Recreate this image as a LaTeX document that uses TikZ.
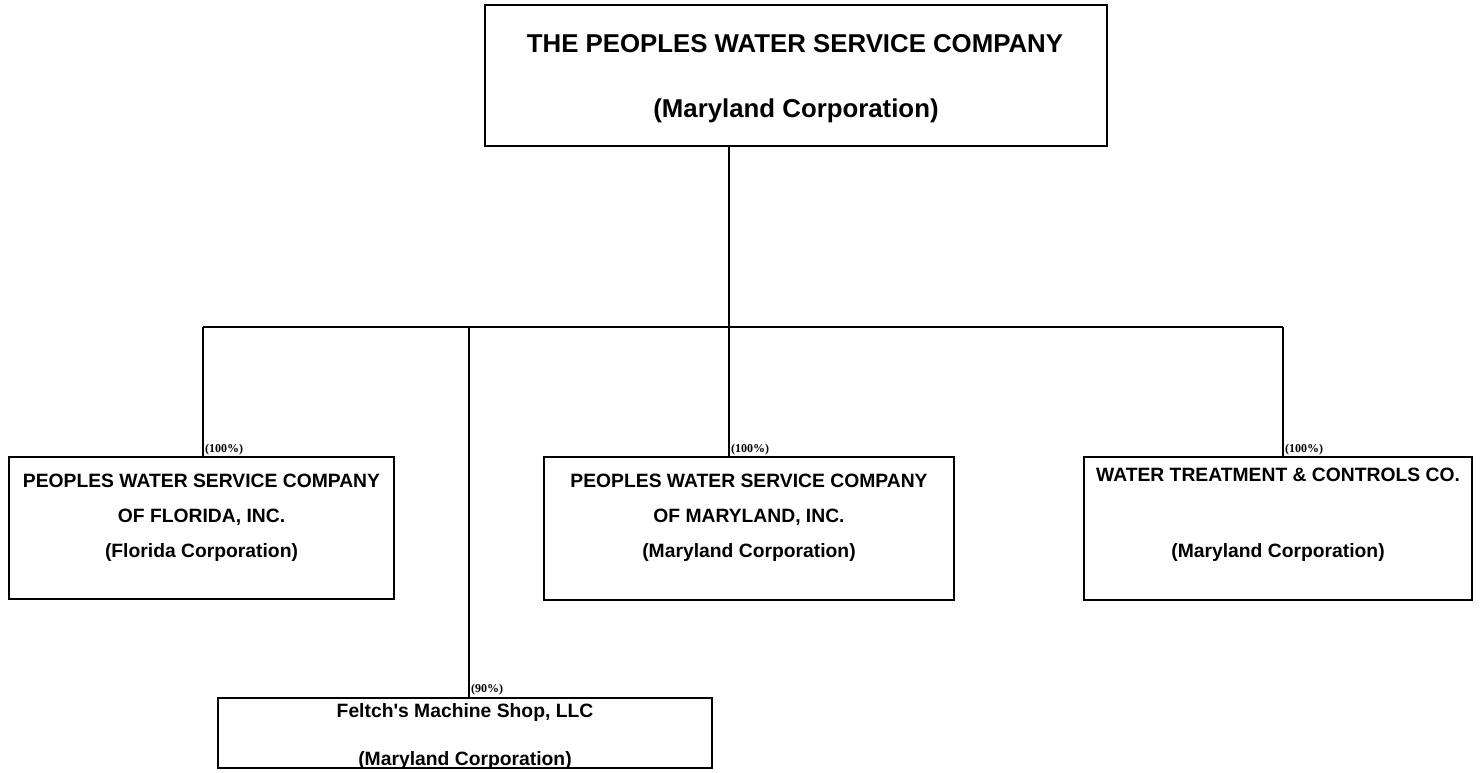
\documentclass[tikz,border=0pt]{standalone}
\usepackage{fontspec}
\setmainfont{Liberation Sans}[Ligatures=TeXOff]
\newfontfamily\tnr{Liberation Serif}
\begin{document}
\begin{tikzpicture}[x=1pt,y=-1pt,
  box/.style={draw=black,line width=2.2pt,fill=white,inner sep=0pt,outer sep=0pt},
  conn/.style={draw=black,line width=1.5pt},
  big/.style={font=\fontsize{25.8}{30}\selectfont\bfseries,anchor=base,inner sep=0pt},
  txt/.style={font=\fontsize{19.3}{23}\selectfont\bfseries,anchor=base,inner sep=0pt},
  pct/.style={font=\tnr\fontsize{12}{14}\selectfont\bfseries,anchor=base west,inner sep=0pt}]
\useasboundingbox (0,0) rectangle (1481,772);
% junction points
\coordinate (stem) at (729,327);
\coordinate (jfl) at (203,327);
\coordinate (jfe) at (469,327);
\coordinate (jmd) at (729,327);
\coordinate (jwt) at (1283,327);
% boxes
\node[box,minimum width=622pt,minimum height=141pt] (top) at (796,75.5) {};
\node[box,minimum width=385pt,minimum height=142pt] (fl) at (201.5,528) {};
\node[box,minimum width=410pt,minimum height=143pt] (md) at (749,528.5) {};
\node[box,minimum width=388pt,minimum height=143pt] (wt) at (1278,528.5) {};
\node[box,minimum width=494pt,minimum height=70pt] (fe) at (465,733) {};
% connectors
\draw[conn] (top.south -| stem) -- (stem);
\draw[conn] (jfl) -- (jwt);
\draw[conn] (jfl) -- (jfl |- fl.north);
\draw[conn] (jfe) -- (jfe |- fe.north);
\draw[conn] (jmd) -- (jmd |- md.north);
\draw[conn] (jwt) -- (jwt |- wt.north);
% texts
\node[big] (t1) at (795,52) {THE PEOPLES WATER SERVICE COMPANY};
\node[big] (t2) at (796,117) {(Maryland Corporation)};
\node[txt] (f1) at (201.5,487) {PEOPLES WATER SERVICE COMPANY};
\node[txt] (f2) at (201.5,522) {OF FLORIDA, INC.};
\node[txt] (f3) at (201.5,557) {(Florida Corporation)};
\node[txt] (m1) at (749,487) {PEOPLES WATER SERVICE COMPANY};
\node[txt] (m2) at (749,522) {OF MARYLAND, INC.};
\node[txt] (m3) at (749,557) {(Maryland Corporation)};
\node[txt] (w1) at (1278,481) {WATER TREATMENT \& CONTROLS CO.};
\node[txt] (w2) at (1278,557) {(Maryland Corporation)};
\node[txt] (e1) at (465,717) {Feltch's Machine Shop, LLC};
\node[txt] (e2) at (465,765) {(Maryland Corporation)};
% percentages
\node[pct] (p1) at (205,452) {(100\%)};
\node[pct] (p2) at (731,452) {(100\%)};
\node[pct] (p3) at (1285,452) {(100\%)};
\node[pct] (p4) at (471,692) {(90\%)};
\end{tikzpicture}
\end{document}
